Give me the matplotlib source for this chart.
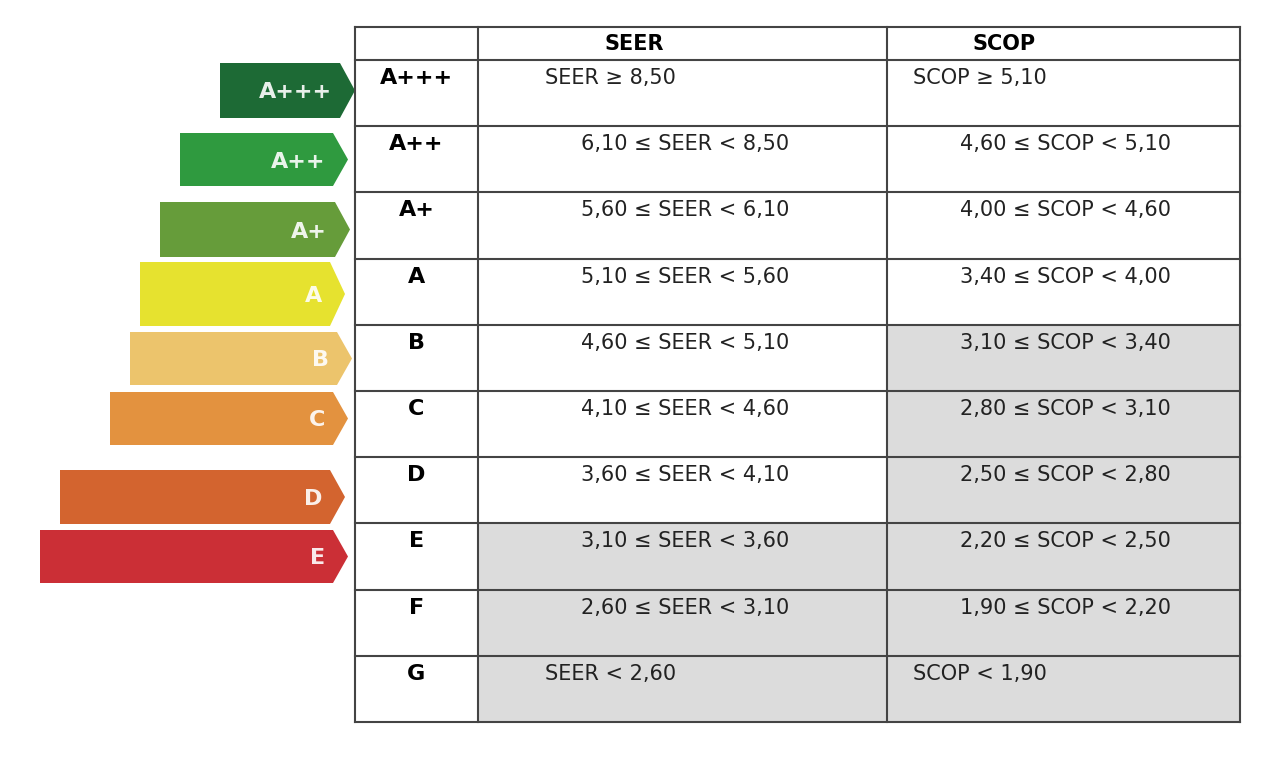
import matplotlib.pyplot as plt
from matplotlib.patches import Polygon, Rectangle

# classi energetiche e limiti
classes = ["A+++", "A++", "A+", "A", "B", "C", "D", "E", "F", "G"]
seer = ["SEER ≥ 8,50", "6,10 ≤ SEER < 8,50", "5,60 ≤ SEER < 6,10", "5,10 ≤ SEER < 5,60",
        "4,60 ≤ SEER < 5,10", "4,10 ≤ SEER < 4,60", "3,60 ≤ SEER < 4,10",
        "3,10 ≤ SEER < 3,60", "2,60 ≤ SEER < 3,10", "SEER < 2,60"]
scop = ["SCOP ≥ 5,10", "4,60 ≤ SCOP < 5,10", "4,00 ≤ SCOP < 4,60", "3,40 ≤ SCOP < 4,00",
        "3,10 ≤ SCOP < 3,40", "2,80 ≤ SCOP < 3,10", "2,50 ≤ SCOP < 2,80",
        "2,20 ≤ SCOP < 2,50", "1,90 ≤ SCOP < 2,20", "SCOP < 1,90"]
seer_grey = [False]*7 + [True]*3
scop_grey = [False]*4 + [True]*6

# frecce: etichetta, x sinistra, x punta, y alto, y basso, colore
arrow_lab = ["A+++", "A++", "A+", "A", "B", "C", "D", "E"]
arrow_x0 = [220, 180, 160, 140, 130, 110, 60, 40]
arrow_tip = [355, 348, 350, 345, 352, 348, 345, 348]
arrow_y0 = [63, 133, 202, 262, 332, 392, 470, 530]
arrow_y1 = [118, 186, 257, 326, 385, 445, 524, 583]
arrow_col = ["#1d6a35", "#2f9a3f", "#669c3a", "#e6e22f", "#ecc46c", "#e3923f", "#d3642f", "#cb2f36"]

fig = plt.figure(figsize=(12.8, 7.6), dpi=100)
ax = fig.add_axes([0, 0, 1, 1])
ax.set_xlim(0, 1280)
ax.set_ylim(760, 0)
ax.axis("off")

for lab, x0, tip, y0, y1, c in zip(arrow_lab, arrow_x0, arrow_tip, arrow_y0, arrow_y1, arrow_col):
    body = tip - 15
    ax.add_patch(Polygon([(x0, y0), (body, y0), (tip, (y0+y1)/2), (body, y1), (x0, y1)],
                         closed=True, color=c, lw=0))
    ax.text(body - 8, (y0+y1)/2 + 2, lab, color="white", fontsize=16, fontweight="bold",
            ha="right", va="center", alpha=0.9)

cols = [355, 478, 887, 1240]
row_top = 60
row_h = 66.2
head_top = 27

for i in range(len(classes)):
    y = row_top + i*row_h
    if seer_grey[i]:
        ax.add_patch(Rectangle((cols[1], y), cols[2]-cols[1], row_h, color="#dcdcdc", lw=0))
    if scop_grey[i]:
        ax.add_patch(Rectangle((cols[2], y), cols[3]-cols[2], row_h, color="#dcdcdc", lw=0))
    ax.text((cols[0]+cols[1])/2, y + 18, classes[i], fontsize=16, fontweight="bold",
            ha="center", va="center")
    if i == 0 or i == len(classes)-1:
        ax.text(545, y + 18, seer[i], fontsize=15, ha="left", va="center", color="#222222")
        ax.text(913, y + 18, scop[i], fontsize=15, ha="left", va="center", color="#222222")
    else:
        ax.text(685, y + 18, seer[i], fontsize=15, ha="center", va="center", color="#222222")
        ax.text(1065, y + 18, scop[i], fontsize=15, ha="center", va="center", color="#222222")

bottom = row_top + len(classes)*row_h
ax.text(634, head_top + 17, "SEER", fontsize=15, fontweight="bold", ha="center", va="center")
ax.text(1004, head_top + 17, "SCOP", fontsize=15, fontweight="bold", ha="center", va="center")

# griglia
for x in cols:
    ax.plot([x, x], [head_top, bottom], color="#444444", lw=1.5)
for i in range(len(classes)+1):
    y = row_top + i*row_h
    ax.plot([cols[0], cols[3]], [y, y], color="#444444", lw=1.5)
ax.plot([cols[0], cols[3]], [head_top, head_top], color="#444444", lw=1.5)

fig.savefig("out.png", dpi=100, facecolor="white")
